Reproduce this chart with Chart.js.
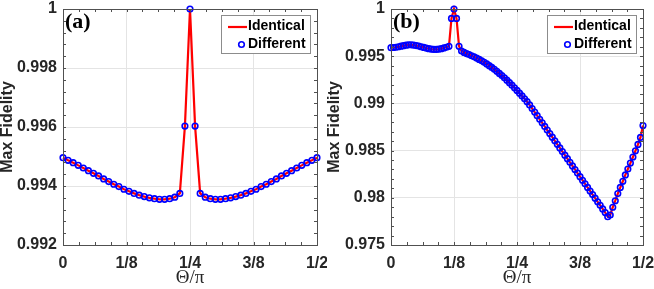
<!DOCTYPE html>
<html>
<head>
<meta charset="utf-8">
<script src="https://cdn.jsdelivr.net/npm/chart.js@4.4.0/dist/chart.umd.min.js"></script>
<style>
  html, body { margin: 0; padding: 0; background: #fff; }
  #wrap { position: relative; width: 654px; height: 289px; }
  canvas { position: absolute; top: 0; }
  #chartA { left: 0; }
  #chartB { left: 327px; }
</style>
</head>
<body>
<div id="wrap">
  <canvas id="chartA" width="327" height="289"></canvas>
  <canvas id="chartB" width="327" height="289"></canvas>
</div>
<script>
// ---- data ----
const seriesNames = ['Identical', 'Different'];

const xTickValues = [0, 0.125, 0.25, 0.375, 0.5];
const xTickLabels = ['0', '1/8', '1/4', '3/8', '1/2'];

const yTicksA = [0.992, 0.994, 0.996, 0.998, 1];
const yLabelsA = ['0.992', '0.994', '0.996', '0.998', '1'];
const yTicksB = [0.975, 0.98, 0.985, 0.99, 0.995, 1];
const yLabelsB = ['0.975', '0.98', '0.985', '0.99', '0.995', '1'];

// panel (a): theta / pi
const thetaA = [
  0, 0.01, 0.02, 0.03, 0.04, 0.05, 0.06, 0.07, 0.08, 0.09,
  0.1, 0.11, 0.12, 0.13, 0.14, 0.15, 0.16, 0.17, 0.18, 0.19,
  0.2, 0.21, 0.22, 0.23, 0.24, 0.25, 0.26, 0.27, 0.28, 0.29,
  0.3, 0.31, 0.32, 0.33, 0.34, 0.35, 0.36, 0.37, 0.38, 0.39,
  0.4, 0.41, 0.42, 0.43, 0.44, 0.45, 0.46, 0.47, 0.48, 0.49,
  0.5
];
const identicalA = [
  0.99496, 0.99487, 0.99479, 0.99470, 0.99461, 0.99452, 0.99443, 0.99434, 0.99424, 0.99415,
  0.99406, 0.99398, 0.99389, 0.99382, 0.99375, 0.99369, 0.99364, 0.99360, 0.99357, 0.99355,
  0.99355, 0.99357, 0.99362, 0.99375, 0.99603, 1.00000, 0.99603, 0.99375, 0.99362, 0.99357,
  0.99355, 0.99355, 0.99357, 0.99360, 0.99364, 0.99369, 0.99375, 0.99382, 0.99389, 0.99398,
  0.99406, 0.99415, 0.99424, 0.99434, 0.99443, 0.99452, 0.99461, 0.99470, 0.99479, 0.99487,
  0.99496
];
const differentA = identicalA.slice(); // both curves coincide in the figure

// panel (b)
const thetaB = [
  0, 0.005, 0.01, 0.015, 0.02, 0.025, 0.03, 0.035, 0.04, 0.045,
  0.05, 0.055, 0.06, 0.065, 0.07, 0.075, 0.08, 0.085, 0.09, 0.095,
  0.1, 0.105, 0.11, 0.115, 0.12, 0.125, 0.13, 0.135, 0.14, 0.145,
  0.15, 0.155, 0.16, 0.165, 0.17, 0.175, 0.18, 0.185, 0.19, 0.195,
  0.2, 0.205, 0.21, 0.215, 0.22, 0.225, 0.23, 0.235, 0.24, 0.245,
  0.25, 0.255, 0.26, 0.265, 0.27, 0.275, 0.28, 0.285, 0.29, 0.295,
  0.3, 0.305, 0.31, 0.315, 0.32, 0.325, 0.33, 0.335, 0.34, 0.345,
  0.35, 0.355, 0.36, 0.365, 0.37, 0.375, 0.38, 0.385, 0.39, 0.395,
  0.4, 0.405, 0.41, 0.415, 0.42, 0.425, 0.43, 0.435, 0.44, 0.445,
  0.45, 0.455, 0.46, 0.465, 0.47, 0.475, 0.48, 0.485, 0.49, 0.495,
  0.5
];
const identicalB = [
  0.99590, 0.99592, 0.99595, 0.99600, 0.99606, 0.99612, 0.99617, 0.99620, 0.99620, 0.99618,
  0.99613, 0.99607, 0.99600, 0.99593, 0.99586, 0.99580, 0.99575, 0.99572, 0.99572, 0.99575,
  0.99580, 0.99588, 0.99595, 0.99605, 0.99900, 1.00000, 0.99900, 0.99605, 0.99555, 0.99540,
  0.99528, 0.99517, 0.99505, 0.99493, 0.99480, 0.99466, 0.99451, 0.99435, 0.99418, 0.99400,
  0.99381, 0.99361, 0.99340, 0.99318, 0.99295, 0.99271, 0.99246, 0.99220, 0.99193, 0.99165,
  0.99137, 0.99108, 0.99079, 0.99049, 0.99018, 0.98984, 0.98946, 0.98908, 0.98870, 0.98832,
  0.98794, 0.98756, 0.98718, 0.98680, 0.98642, 0.98604, 0.98566, 0.98528, 0.98490, 0.98452,
  0.98414, 0.98376, 0.98338, 0.98300, 0.98262, 0.98224, 0.98186, 0.98148, 0.98110, 0.98072,
  0.98034, 0.97996, 0.97958, 0.97920, 0.97882, 0.97844, 0.97800, 0.97818, 0.97900, 0.97969,
  0.98045, 0.98110, 0.98175, 0.98242, 0.98305, 0.98368, 0.98432, 0.98498, 0.98565, 0.98640,
  0.98765
];
const differentB = identicalB.slice();

// ---- styling ----
const SANS = '"Liberation Sans", Arial, Helvetica, sans-serif';
const SERIF = '"Liberation Serif", "Times New Roman", serif';
const axisColor = '#505050';
const gridColor = '#e4e4e4';
const RED = '#ff0000';
const BLUE = '#0000ff';

// subdivide major ticks for the small inward tick marks
function subTicks(majors, sub) {
  const out = [];
  for (let i = 0; i < majors.length - 1; i++) {
    for (let k = 0; k < sub; k++) {
      out.push({ v: majors[i] + (majors[i + 1] - majors[i]) * k / sub, major: k === 0 });
    }
  }
  out.push({ v: majors[majors.length - 1], major: true });
  return out;
}

// box round the plot + inward ticks (matlab style)
const boxPlugin = {
  id: 'box',
  afterDraw(chart, args, opts) {
    const { ctx, chartArea: a, scales: { x, y } } = chart;
    ctx.save();
    ctx.strokeStyle = axisColor;
    ctx.lineWidth = 1;
    ctx.beginPath();
    subTicks(opts.xMajors, 4).forEach(t => {
      const px = Math.round(x.getPixelForValue(t.v)) + 0.5;
      const len = 3;
      ctx.moveTo(px, a.bottom); ctx.lineTo(px, a.bottom - len);
      ctx.moveTo(px, a.top); ctx.lineTo(px, a.top + len);
    });
    subTicks(opts.yMajors, 5).forEach(t => {
      const py = Math.round(y.getPixelForValue(t.v)) + 0.5;
      const len = 3;
      ctx.moveTo(a.left, py); ctx.lineTo(a.left + len, py);
      ctx.moveTo(a.right, py); ctx.lineTo(a.right - len, py);
    });
    ctx.stroke();
    ctx.strokeRect(Math.round(a.left) + 0.5, Math.round(a.top) + 0.5,
                   Math.round(a.right - a.left), Math.round(a.bottom - a.top));
    ctx.restore();
  }
};

// legend box inside the upper right corner
const legendPlugin = {
  id: 'legendBox',
  afterDraw(chart) {
    const { ctx, chartArea: a } = chart;
    const lineDs = chart.data.datasets[1];
    const dotDs = chart.data.datasets[0];
    ctx.save();
    ctx.font = 'bold 14px ' + SANS;
    const textW = Math.max(...seriesNames.map(n => ctx.measureText(n).width));
    const w = Math.round(27 + textW + 4), h = 38;
    const left = Math.round(a.right - 7 - w), top = Math.round(a.top + 6);
    ctx.fillStyle = '#fff';
    ctx.fillRect(left, top, w, h);
    ctx.strokeStyle = '#8c8c8c';
    ctx.lineWidth = 1;
    ctx.strokeRect(left + 0.5, top + 0.5, w, h);
    // line sample
    ctx.strokeStyle = lineDs.borderColor;
    ctx.lineWidth = lineDs.borderWidth;
    ctx.beginPath();
    ctx.moveTo(left + 7, top + 12); ctx.lineTo(left + 26, top + 12);
    ctx.stroke();
    // marker sample
    ctx.strokeStyle = dotDs.pointBorderColor;
    ctx.lineWidth = dotDs.pointBorderWidth;
    ctx.beginPath();
    ctx.arc(left + 20.5, top + 29.5, dotDs.pointRadius, 0, Math.PI * 2);
    ctx.stroke();
    ctx.fillStyle = '#000';
    ctx.textBaseline = 'middle';
    ctx.textAlign = 'left';
    ctx.fillText(lineDs.label, left + 27, top + 11.5);
    ctx.fillText(dotDs.label, left + 27, top + 29.5);
    ctx.restore();
  }
};

const panelLabelPlugin = {
  id: 'panelLabel',
  afterDraw(chart, args, opts) {
    const { ctx, chartArea: a } = chart;
    ctx.save();
    ctx.font = 'bold 22px ' + SERIF;
    ctx.fillStyle = '#000';
    ctx.textBaseline = 'alphabetic';
    ctx.fillText(opts.text, a.left + 2, a.top + 19);
    ctx.restore();
  }
};

function makePanel(id, theta, identical, different, yTicks, yLabels, label, yWidth, padRight) {
  const pts = vals => theta.map((t, i) => ({ x: t, y: vals[i] }));
  return new Chart(document.getElementById(id), {
    type: 'line',
    data: {
      datasets: [
        {
          label: seriesNames[1],
          data: pts(different),
          showLine: false,
          pointRadius: 2.8,
          pointBorderWidth: 1.6,
          pointBorderColor: BLUE,
          pointBackgroundColor: 'rgba(0,0,0,0)',
          clip: false,
          order: 0
        },
        {
          label: seriesNames[0],
          data: pts(identical),
          borderColor: RED,
          borderWidth: 2.2,
          pointRadius: 0,
          tension: 0,
          clip: false,
          order: 1
        }
      ]
    },
    options: {
      responsive: false,
      animation: false,
      events: [],
      layout: { padding: { top: 9, right: padRight, left: 0, bottom: 0 } },
      plugins: {
        legend: { display: false },
        tooltip: { enabled: false },
        box: { xMajors: xTickValues, yMajors: yTicks },
        panelLabel: { text: label }
      },
      scales: {
        x: {
          type: 'linear',
          min: 0, max: 0.5,
          afterBuildTicks: s => { s.ticks = xTickValues.map(v => ({ value: v })); },
          afterFit: s => { s.height = 44; s.paddingLeft = 0; s.paddingRight = 0; },
          grid: { color: gridColor, lineWidth: 1, drawTicks: false },
          border: { display: false },
          ticks: {
            autoSkip: false, maxRotation: 0, padding: 9,
            color: '#262626',
            font: { family: SANS, size: 16, weight: 'bold' },
            callback: (v, i) => xTickLabels[i]
          },
          title: {
            display: true, text: 'Θ/π', color: '#262626',
            font: { family: SERIF, size: 19, lineHeight: 1 },
            padding: { top: 0, bottom: 1 }
          }
        },
        y: {
          type: 'linear',
          min: yTicks[0], max: yTicks[yTicks.length - 1],
          afterBuildTicks: s => { s.ticks = yTicks.map(v => ({ value: v })); },
          afterFit: s => { s.width = yWidth; s.paddingTop = 0; s.paddingBottom = 0; },
          grid: { color: gridColor, lineWidth: 1, drawTicks: false },
          border: { display: false },
          ticks: {
            autoSkip: false, padding: 6,
            color: '#262626',
            font: { family: SANS, size: 16, weight: 'bold' },
            callback: (v, i) => yLabels[i]
          },
          title: {
            display: true, text: 'Max Fidelity', color: '#262626',
            font: { family: SANS, size: 16, weight: 'bold', lineHeight: 1 },
            padding: { top: 0, bottom: 0 }
          }
        }
      }
    },
    plugins: [boxPlugin, legendPlugin, panelLabelPlugin]
  });
}

makePanel('chartA', thetaA, identicalA, differentA, yTicksA, yLabelsA, '(a)', 63, 10);
makePanel('chartB', thetaB, identicalB, differentB, yTicksB, yLabelsB, '(b)', 64, 11);
</script>
</body>
</html>
